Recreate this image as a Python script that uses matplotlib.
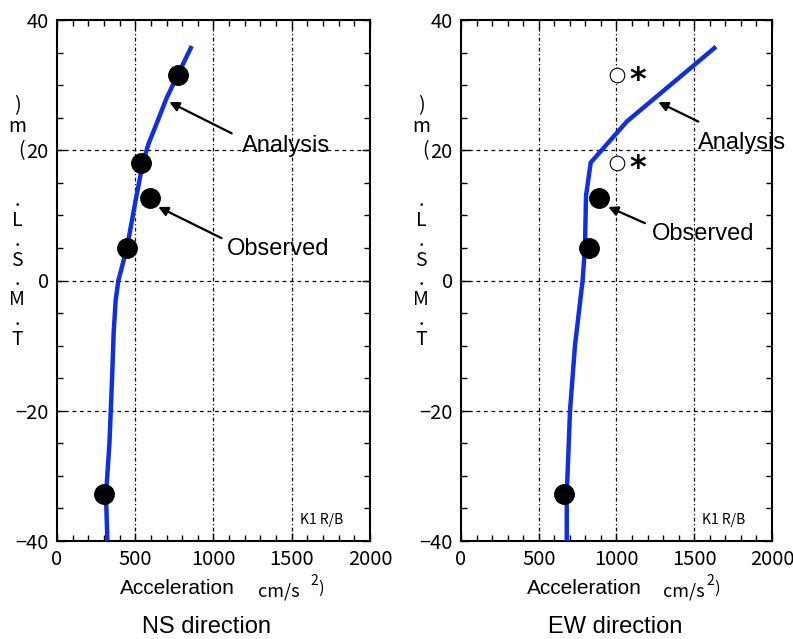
import matplotlib
matplotlib.use("Agg")
import matplotlib.pyplot as plt

# ---------------- data ----------------
ns_line_acc = [322, 313, 335, 352, 362, 375, 392, 447, 500, 548, 585, 635, 700, 780, 861]
ns_line_dep = [-40, -33, -25, -15, -8, -3, 0, 5, 12, 18, 21, 24, 28, 32, 36]
ns_obs_acc = [775, 537, 592, 447, 302]
ns_obs_dep = [31.5, 18.0, 12.6, 5.0, -32.8]

ew_line_acc = [680, 680, 701, 733, 782, 797, 804, 834, 1066, 1640]
ew_line_dep = [-40, -33, -20, -10, 0, 5, 13, 18.1, 24.4, 35.9]
ew_obs_acc = [887, 825, 664]
ew_obs_dep = [12.6, 5.0, -32.8]
ew_ref_acc = [1001, 1001]
ew_ref_dep = [31.5, 18.0]

x_ticks = [0, 500, 1000, 1500, 2000]
y_ticks = [-40, -20, 0, 20, 40]
titles = ["NS direction", "EW direction"]
ylabel_top = ")\nm"
ylabel_paren = "("
ylabel_bottom = ".\nL\n.\nS\n.\nM\n.\nT"

JP = ["Noto Sans CJK JP", "DejaVu Sans"]
AR = ["Liberation Sans", "DejaVu Sans"]
BLUE = "#1030e0"

W, H = 793, 639
fig = plt.figure(figsize=(W / 100, H / 100), dpi=100)

panels = [
    dict(x0=57, x1=370, line=(ns_line_acc, ns_line_dep), obs=(ns_obs_acc, ns_obs_dep), ref=None,
         ann=[("Analysis", (718, 27.4), (1116, 22.6), (1180, 20.6)),
              ("Observed", (647, 11.3), (1052, 6.5), (1084, 4.9))],
         acc_x=(120, 258, 310, 318), title_x=206),
    dict(x0=461, x1=772, line=(ew_line_acc, ew_line_dep), obs=(ew_obs_acc, ew_obs_dep),
         ref=(ew_ref_acc, ew_ref_dep),
         ann=[("Analysis", (1269, 27.4), (1526, 24.4), (1526, 21.1)),
              ("Observed", (947, 11.3), (1183, 8.8), (1230, 7.2))],
         acc_x=(527, 663, 706, 714), title_x=615),
]

top, bot = 20, 541
for i, p in enumerate(panels):
    ax = fig.add_axes([p["x0"] / W, 1 - bot / H, (p["x1"] - p["x0"]) / W, (bot - top) / H])
    ax.set_xlim(0, 2000)
    ax.set_ylim(-40, 40)
    ax.set_xticks(x_ticks)
    ax.set_yticks(y_ticks)
    ax.set_xticks(range(0, 2001, 100), minor=True)
    ax.set_yticks(range(-40, 41, 5), minor=True)
    ax.tick_params(which="both", direction="in", top=True, right=True, width=1.0, colors="black")
    ax.tick_params(which="major", length=6, labelsize=14.5, pad=6)
    ax.tick_params(which="minor", length=4.5)
    ax.set_yticklabels(["\u221240", "\u221220", "0", "20", "40"])
    for lab in ax.get_xticklabels() + ax.get_yticklabels():
        lab.set_family(JP)
    for s in ax.spines.values():
        s.set_linewidth(1.5)
    for gx in [500, 1000, 1500]:
        ax.axvline(gx, color="black", lw=0.9, ls=(0, (3, 2, 1, 2)), zorder=1)
    for gy in [-20, 0, 20]:
        ax.axhline(gy, color="black", lw=0.9, ls=(0, (3, 3)), zorder=1)

    ax.plot(p["line"][0], p["line"][1], color=BLUE, lw=3.2, zorder=3, solid_capstyle="butt")
    ax.plot(p["obs"][0], p["obs"][1], "o", color="black", ms=14, zorder=4, ls="none")
    if p["ref"] is not None:
        ax.plot(p["ref"][0], p["ref"][1], "o", mfc="white", mec="black", mew=0.8, ms=10.5,
                zorder=4, ls="none")
        for xx, yy in zip(p["ref"][0], p["ref"][1]):
            ax.text(xx + 80, yy - 0.8, "*", fontsize=23, fontweight="bold", ha="left", va="center",
                    family=["DejaVu Sans"], zorder=5)

    for txt, head, tail, tpos in p["ann"]:
        ax.annotate("", xy=head, xytext=tail,
                    arrowprops=dict(arrowstyle="-|>", color="black", lw=1.6, mutation_scale=14,
                                    shrinkA=0, shrinkB=0), zorder=5)
        ax.text(tpos[0], tpos[1], txt, fontsize=17, family=AR, ha="left", va="center", zorder=5)

    ax.text(1553, -36.8, "K1 R/B", fontsize=10, family=JP, ha="left", va="center")

    # x axis label pieces (pixel positions)
    ax1, cm, sup, par = p["acc_x"]
    fig.text(ax1 / W, 1 - 589 / H, "Acceleration", fontsize=15, family=AR, ha="left", va="center")
    fig.text(cm / W, 1 - 591 / H, "cm/s", fontsize=13, family=JP, ha="left", va="center")
    fig.text(sup / W, 1 - 581 / H, "2", fontsize=10, family=JP, ha="left", va="center")
    fig.text(par / W, 1 - 588 / H, ")", fontsize=12, family=JP, ha="left", va="center")

    fig.text(p["title_x"] / W, 1 - 627 / H, titles[i], fontsize=17, family=AR,
             ha="center", va="center")

    # vertical (stacked) y-axis label
    xo = p["x0"] - 40
    fig.text(xo / W, 1 - 116 / H, ylabel_top, fontsize=14, family=JP, ha="center", va="center",
             ma="center", linespacing=0.95)
    fig.text((xo + 4) / W, 1 - 151 / H, ylabel_paren, fontsize=14, family=JP, ha="center",
             va="center")
    fig.text(xo / W, 1 - 270 / H, ylabel_bottom, fontsize=14, family=JP, ha="center",
             va="center", ma="center", linespacing=0.92)

fig.savefig("out.png", dpi=100)
